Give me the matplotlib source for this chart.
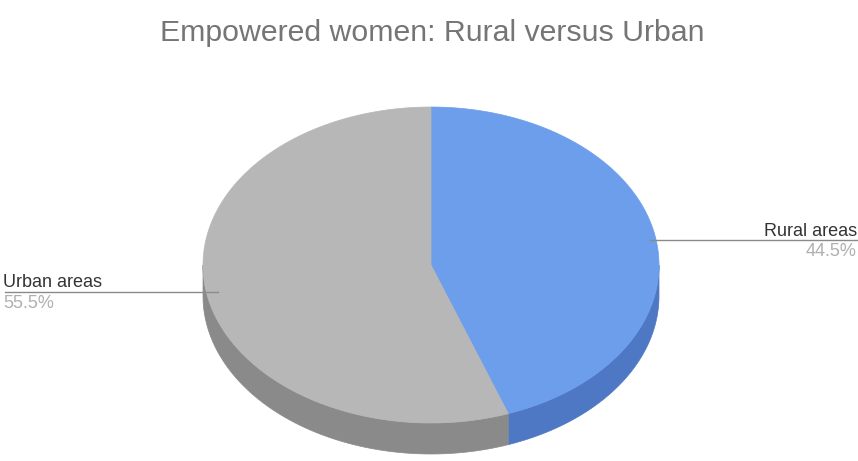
"""3D-style pie: Empowered women, rural versus urban."""

import numpy as np
import matplotlib.pyplot as plt
from matplotlib.patches import Polygon

plt.rcParams['font.family'] = ['Liberation Sans', 'DejaVu Sans']

labels = ['Rural areas', 'Urban areas']
shares = [44.5, 55.5]
top_colors = ['#6d9eeb', '#b7b7b7']
side_colors = ['#4e78c4', '#8a8a8a']

# pie geometry in pixel space
CX, CY = 431, 265
RX, RY = 228, 158
DEPTH = 31


def rim(theta):
    # theta in degrees, clockwise from 12 o'clock
    t = np.radians(theta)
    return CX + RX * np.sin(t), CY - RY * np.cos(t)


fig = plt.figure(figsize=(8.58, 4.61), dpi=100)
ax = fig.add_axes([0, 0, 1, 1])
ax.set_xlim(0, 858)
ax.set_ylim(461, 0)
ax.axis('off')

fracs = np.array(shares) / sum(shares)
bounds = np.concatenate([[0], np.cumsum(fracs) * 360])

# ── side walls (visible front half: 90..270 deg) ──
for i in range(len(shares)):
    a0, a1 = max(bounds[i], 90), min(bounds[i + 1], 270)
    if a1 <= a0:
        continue
    th = np.linspace(a0, a1, 100)
    xs, ys = rim(th)
    pts = np.column_stack([np.r_[xs, xs[::-1]], np.r_[ys, ys[::-1] + DEPTH]])
    ax.add_patch(Polygon(pts, closed=True, facecolor=side_colors[i],
                         edgecolor=side_colors[i], linewidth=0.5))

# ── top faces ──
for i in range(len(shares)):
    th = np.linspace(bounds[i], bounds[i + 1], 200)
    xs, ys = rim(th)
    pts = np.column_stack([np.r_[CX, xs], np.r_[CY, ys]])
    ax.add_patch(Polygon(pts, closed=True, facecolor=top_colors[i],
                         edgecolor=top_colors[i], linewidth=0.5))

# ── labels with leader lines ──
# Rural, right side
ax.plot([650, 858], [240, 240], color='#8a8a8a', linewidth=1)
ax.text(857, 236, labels[0], ha='right', va='baseline', fontsize=13, color='#333333')
ax.text(857, 256, f'{shares[0]:.1f}%', ha='right', va='baseline', fontsize=13, color='#b0b0b0')

# Urban, left side
ax.plot([5, 218], [292, 292], color='#8a8a8a', linewidth=1)
ax.text(3, 287, labels[1], ha='left', va='baseline', fontsize=13, color='#333333')
ax.text(3, 308, f'{shares[1]:.1f}%', ha='left', va='baseline', fontsize=13, color='#b0b0b0')

ax.text(432, 33, 'Empowered women: Rural versus Urban', ha='center', va='center',
        fontsize=21.8, color='#757575')

fig.savefig('out.png', dpi=100)
